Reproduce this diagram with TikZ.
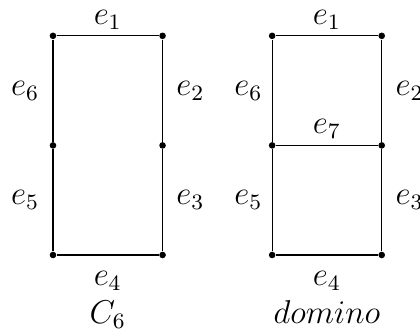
\documentclass[tikz,border=0pt]{standalone}
\begin{document}
\begin{tikzpicture}[
  every node/.style={font=\large},
  vertex/.style={circle,fill,inner sep=0pt,minimum size=2.4pt},
  top/.style={above,inner sep=2.2pt},
  bot/.style={below=2.5pt},
  lft/.style={left=1.5pt},
  rgt/.style={right=1.5pt},
  caption/.style={anchor=base}
]
  \useasboundingbox (-0.677,-0.997) rectangle (4.689,3.258);
  % C_6
  \node[vertex] (a1) at (0,2.8) {};
  \node[vertex] (a2) at (1.4,2.8) {};
  \node[vertex] (a3) at (1.4,1.4) {};
  \node[vertex] (a4) at (1.4,0) {};
  \node[vertex] (a5) at (0,0) {};
  \node[vertex] (a6) at (0,1.4) {};
  \draw (a1) -- node[top] {$e_1$} (a2)
             -- node[rgt] {$e_2$} (a3)
             -- node[rgt] {$e_3$} (a4)
             -- node[bot] {$e_4$} (a5)
             -- node[lft] {$e_5$} (a6)
             -- node[lft] {$e_6$} (a1);
  \node[caption] (c6) at (0.7,-0.87) {$C_6$};
  % domino
  \node[vertex] (b1) at (2.8,2.8) {};
  \node[vertex] (b2) at (4.2,2.8) {};
  \node[vertex] (b3) at (4.2,1.4) {};
  \node[vertex] (b4) at (4.2,0) {};
  \node[vertex] (b5) at (2.8,0) {};
  \node[vertex] (b6) at (2.8,1.4) {};
  \draw (b1) -- node[top] {$e_1$} (b2)
             -- node[rgt] {$e_2$} (b3)
             -- node[rgt] {$e_3$} (b4)
             -- node[bot] {$e_4$} (b5)
             -- node[left] {$e_5$} (b6)
             -- node[left] {$e_6$} (b1);
  \draw (b6) -- node[top] {$e_7$} (b3);
  \node[caption] (dom) at (3.5,-0.87) {$domino$};
\end{tikzpicture}
\end{document}
